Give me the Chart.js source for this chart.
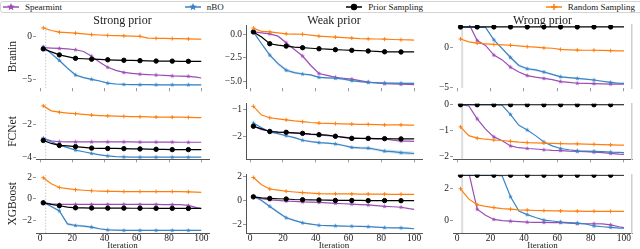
<!DOCTYPE html>
<html>
<head>
<meta charset="utf-8">
<script src="https://cdn.jsdelivr.net/npm/chart.js@4.4.0/dist/chart.umd.min.js"></script>
<style>
    body { margin: 0; background: #fff; width: 640px; height: 249px; overflow: hidden; position: relative; font-family: "Liberation Serif", serif; }
    canvas.panel { position: absolute; }
    #legendBox { position: absolute; left: 0; top: 1px; width: 642px; height: 12px; box-sizing: border-box; border: 1px solid #d4d4d4; border-radius: 3px;
        display: flex; justify-content: space-between; align-items: center; padding: 0 6px 0 2px; font-size: 9px; color: #222; }
    #legendBox span { display: flex; align-items: center; white-space: nowrap; }
    #legendBox canvas { margin-right: 6px; }
</style>
</head>
<body>
<div id="legendBox"></div>
<script>
const iters = [2, 7, 12, 17, 22, 27, 32, 37, 42, 47, 52, 57, 62, 67, 72, 77, 82, 87, 92, 97, 100];
const xTicks = [0, 20, 40, 60, 80, 100];
const methods = ['Spearmint', 'nBO', 'Prior Sampling', 'Random Sampling'];
const priors = ['Strong prior', 'Weak prior', 'Wrong prior'];
const benchmarks = ['Branin', 'FCNet', 'XGBoost'];
const initIter = 3;

// Branin
const braninStrongSpearmint = [-1.3, -1.35, -1.4, -1.45, -1.55, -1.75, -2.3, -3.0, -3.6, -3.95, -4.2, -4.3, -4.4, -4.45, -4.5, -4.55, -4.6, -4.62, -4.65, -4.75, -4.85];
const braninStrongNBO = [-1.2, -2.0, -2.8, -3.7, -4.5, -4.8, -5.0, -5.2, -5.45, -5.55, -5.6, -5.62, -5.63, -5.63, -5.64, -5.64, -5.64, -5.65, -5.65, -5.65, -5.65];
const braninStrongPrior = [-1.45, -1.8, -2.15, -2.35, -2.55, -2.6, -2.65, -2.68, -2.72, -2.75, -2.78, -2.8, -2.82, -2.85, -2.87, -2.88, -2.88, -2.9, -2.9, -2.9, -2.9];
const braninStrongRandom = [1.0, 0.7, 0.5, 0.45, 0.38, 0.3, 0.22, 0.17, 0.12, 0.1, 0.08, 0.05, 0.02, -0.2, -0.22, -0.23, -0.25, -0.26, -0.28, -0.3, -0.3];

const braninWeakSpearmint = [0.25, 0.15, 0.05, -0.2, -0.9, -1.6, -2.3, -3.3, -4.15, -4.35, -4.55, -4.65, -4.75, -4.9, -5.05, -5.15, -5.22, -5.25, -5.28, -5.3, -5.32];
const braninWeakNBO = [0.25, -1.0, -2.2, -3.1, -3.8, -4.05, -4.2, -4.3, -4.55, -4.6, -4.65, -4.75, -4.9, -5.0, -5.08, -5.12, -5.15, -5.17, -5.18, -5.2, -5.2];
const braninWeakPrior = [0.25, -0.3, -1.0, -1.15, -1.25, -1.35, -1.42, -1.48, -1.53, -1.58, -1.63, -1.66, -1.7, -1.73, -1.77, -1.8, -1.85, -1.86, -1.87, -1.87, -1.87];
const braninWeakRandom = [0.65, 0.3, 0.25, 0.15, 0.05, 0.02, 0.0, -0.1, -0.2, -0.25, -0.3, -0.35, -0.4, -0.45, -0.48, -0.5, -0.52, -0.55, -0.58, -0.6, -0.62];

const braninWrongSpearmint = [6.0, 2.9, 0.8, 0.2, -1.0, -1.6, -2.5, -3.1, -3.55, -3.75, -3.9, -4.05, -4.3, -4.4, -4.5, -4.52, -4.55, -4.58, -4.6, -4.6, -4.62];
const braninWrongNBO = [2.45, 2.45, 2.45, 2.45, 0.9, -0.2, -1.3, -2.3, -2.7, -2.85, -3.1, -3.4, -3.7, -3.8, -3.9, -4.0, -4.1, -4.25, -4.4, -4.5, -4.52];
const braninWrongPrior = [2.5, 2.5, 2.5, 2.5, 2.5, 2.5, 2.5, 2.5, 2.5, 2.5, 2.5, 2.5, 2.5, 2.5, 2.5, 2.5, 2.5, 2.5, 2.5, 2.5, 2.5];
const braninWrongRandom = [1.0, 0.65, 0.48, 0.4, 0.32, 0.28, 0.22, 0.15, 0.05, -0.02, -0.1, -0.15, -0.3, -0.35, -0.38, -0.4, -0.4, -0.42, -0.45, -0.48, -0.48];

// FCNet
const fcnetStrongSpearmint = [-2.85, -3.0, -3.05, -3.06, -3.06, -3.06, -3.06, -3.06, -3.06, -3.06, -3.06, -3.06, -3.07, -3.07, -3.07, -3.07, -3.07, -3.08, -3.08, -3.08, -3.08];
const fcnetStrongNBO = [-2.85, -3.05, -3.25, -3.4, -3.55, -3.65, -3.75, -3.83, -3.9, -3.94, -3.96, -3.97, -3.97, -3.97, -3.97, -3.97, -3.97, -3.97, -3.97, -3.97, -3.97];
const fcnetStrongPrior = [-2.97, -3.15, -3.27, -3.3, -3.34, -3.38, -3.43, -3.44, -3.45, -3.45, -3.46, -3.47, -3.48, -3.49, -3.5, -3.51, -3.52, -3.52, -3.52, -3.52, -3.52];
const fcnetStrongRandom = [-0.9, -1.2, -1.28, -1.33, -1.37, -1.41, -1.45, -1.48, -1.5, -1.52, -1.53, -1.54, -1.55, -1.56, -1.57, -1.57, -1.58, -1.58, -1.59, -1.6, -1.6];

const fcnetWeakSpearmint = [-1.62, -1.75, -1.8, -1.84, -1.86, -1.88, -1.9, -1.93, -1.95, -1.98, -2.0, -2.03, -2.06, -2.08, -2.09, -2.1, -2.1, -2.15, -2.18, -2.18, -2.19];
const fcnetWeakNBO = [-1.5, -1.68, -1.84, -1.9, -1.98, -2.05, -2.15, -2.2, -2.24, -2.26, -2.29, -2.35, -2.42, -2.44, -2.45, -2.5, -2.56, -2.58, -2.62, -2.64, -2.65];
const fcnetWeakPrior = [-1.62, -1.72, -1.82, -1.84, -1.85, -1.87, -1.89, -1.92, -1.94, -1.96, -2.0, -2.04, -2.08, -2.08, -2.08, -2.09, -2.09, -2.1, -2.1, -2.1, -2.1];
const fcnetWeakRandom = [-0.87, -1.2, -1.3, -1.34, -1.38, -1.42, -1.45, -1.48, -1.5, -1.51, -1.52, -1.53, -1.54, -1.55, -1.55, -1.56, -1.57, -1.57, -1.57, -1.58, -1.58];

const fcnetWrongSpearmint = [0.0, -0.05, -0.55, -0.95, -1.25, -1.4, -1.6, -1.67, -1.7, -1.72, -1.75, -1.77, -1.78, -1.8, -1.81, -1.82, -1.84, -1.86, -1.89, -1.92, -1.93];
const fcnetWrongNBO = [0.0, 0.0, 0.0, 0.0, 0.0, -0.02, -0.38, -0.8, -0.98, -1.2, -1.45, -1.6, -1.7, -1.75, -1.79, -1.8, -1.81, -1.82, -1.84, -1.85, -1.86];
const fcnetWrongPrior = [0, 0, 0, 0, 0, 0, 0, 0, 0, 0, 0, 0, 0, 0, 0, 0, 0, 0, 0, 0, 0];
const fcnetWrongRandom = [-0.86, -1.2, -1.3, -1.34, -1.37, -1.39, -1.42, -1.45, -1.47, -1.48, -1.49, -1.5, -1.51, -1.52, -1.52, -1.53, -1.54, -1.55, -1.56, -1.57, -1.57];

// XGBoost
const xgbStrongSpearmint = [-0.35, -0.45, -0.5, -0.5, -0.5, -0.5, -0.5, -0.5, -0.5, -0.5, -0.5, -0.51, -0.51, -0.51, -0.51, -0.52, -0.52, -0.52, -0.6, -0.8, -0.9];
const xgbStrongNBO = [-0.3, -0.7, -1.1, -2.3, -2.45, -2.5, -2.6, -2.75, -2.85, -2.88, -2.9, -2.9, -2.9, -2.9, -2.9, -2.9, -2.9, -2.9, -2.9, -2.9, -2.9];
const xgbStrongPrior = [-0.36, -0.5, -0.63, -0.75, -0.82, -0.83, -0.84, -0.84, -0.85, -0.85, -0.85, -0.86, -0.86, -0.86, -0.87, -0.87, -0.87, -0.88, -0.88, -0.88, -0.88];
const xgbStrongRandom = [1.95, 1.4, 1.05, 0.95, 0.85, 0.8, 0.75, 0.72, 0.7, 0.69, 0.68, 0.68, 0.68, 0.68, 0.68, 0.68, 0.68, 0.67, 0.65, 0.62, 0.6];

const xgbWeakSpearmint = [0.3, 0.15, 0.05, 0.0, -0.05, -0.08, -0.12, -0.14, -0.16, -0.2, -0.24, -0.27, -0.3, -0.34, -0.37, -0.42, -0.49, -0.52, -0.56, -0.68, -0.74];
const xgbWeakNBO = [0.35, 0.0, -0.49, -0.98, -1.43, -1.65, -1.85, -1.95, -2.05, -2.08, -2.1, -2.12, -2.13, -2.15, -2.17, -2.2, -2.25, -2.26, -2.27, -2.3, -2.34];
const xgbWeakPrior = [0.3, 0.22, 0.17, 0.14, 0.12, 0.08, 0.06, 0.05, 0.04, 0.02, 0.0, 0.0, 0.0, 0.0, -0.01, -0.01, -0.01, -0.02, -0.02, -0.02, -0.02];
const xgbWeakRandom = [1.9, 1.3, 0.95, 0.85, 0.76, 0.7, 0.65, 0.6, 0.56, 0.55, 0.55, 0.54, 0.54, 0.53, 0.53, 0.52, 0.52, 0.51, 0.51, 0.5, 0.5];

const xgbWrongSpearmint = [6.0, 3.0, 0.72, 0.34, 0.08, 0.0, -0.03, -0.06, -0.09, -0.1, -0.11, -0.12, -0.12, -0.15, -0.18, -0.19, -0.19, -0.2, -0.26, -0.38, -0.43];
const xgbWrongNBO = [2.85, 2.85, 2.85, 2.85, 2.85, 2.8, 1.5, 0.6, 0.38, 0.2, 0.04, -0.02, -0.08, -0.12, -0.15, -0.2, -0.33, -0.38, -0.42, -0.46, -0.47];
const xgbWrongPrior = [2.85, 2.85, 2.85, 2.85, 2.85, 2.85, 2.85, 2.85, 2.85, 2.85, 2.85, 2.85, 2.85, 2.85, 2.85, 2.85, 2.85, 2.85, 2.85, 2.85, 2.85];
const xgbWrongRandom = [2.0, 1.35, 1.0, 0.9, 0.82, 0.76, 0.72, 0.68, 0.66, 0.64, 0.63, 0.62, 0.61, 0.6, 0.6, 0.59, 0.59, 0.59, 0.58, 0.58, 0.58];

// half-width of the shaded spread around some nBO curves
const braninStrongNBOSpread = [0.05, 0.1, 0.15, 0.15, 0.15, 0.12, 0.1, 0.08, 0.08, 0.08, 0.07, 0.07, 0.07, 0.07, 0.07, 0.07, 0.07, 0.07, 0.07, 0.07, 0.07];
const braninWeakNBOSpread = [0.05, 0.1, 0.15, 0.2, 0.2, 0.15, 0.12, 0.1, 0.1, 0.1, 0.1, 0.1, 0.1, 0.1, 0.1, 0.1, 0.1, 0.1, 0.1, 0.1, 0.1];
const braninWrongNBOSpread = [0, 0, 0, 0, 0.1, 0.15, 0.2, 0.2, 0.15, 0.15, 0.15, 0.12, 0.12, 0.1, 0.1, 0.1, 0.1, 0.1, 0.1, 0.1, 0.1];
const fcnetWeakNBOSpread = [0.02, 0.03, 0.03, 0.03, 0.03, 0.03, 0.03, 0.03, 0.03, 0.03, 0.03, 0.04, 0.04, 0.05, 0.05, 0.06, 0.06, 0.07, 0.07, 0.07, 0.07];
const xgbStrongNBOSpread = [0.05, 0.1, 0.1, 0.15, 0.12, 0.1, 0.1, 0.08, 0.06, 0.05, 0.05, 0.05, 0.05, 0.05, 0.05, 0.05, 0.05, 0.05, 0.05, 0.05, 0.05];
const xgbWeakNBOSpread = [0.05, 0.08, 0.1, 0.12, 0.1, 0.08, 0.06, 0.05, 0.05, 0.05, 0.05, 0.05, 0.05, 0.05, 0.05, 0.05, 0.05, 0.05, 0.05, 0.05, 0.05];

// y tick values per panel
const braninStrongTicks = [0, -5];
const braninWeakTicks = [0, -2.5, -5];
const braninWrongTicks = [0, -5];
const fcnetStrongTicks = [-2, -4];
const fcnetWeakTicks = [-1, -2];
const fcnetWrongTicks = [0, -1, -2];
const xgbStrongTicks = [2, 0, -2];
const xgbWeakTicks = [2, 0, -2];
const xgbWrongTicks = [2, 0];

const FONT = '"Liberation Serif", serif';
const methodStyle = {
    'Spearmint': { color: '#9b4db5', band: 'rgba(155,77,181,0.18)', marker: 'star', order: 4 },
    'nBO': { color: '#3a84c4', band: 'rgba(58,132,196,0.2)', marker: 'star', order: 3 },
    'Prior Sampling': { color: '#000000', band: 'rgba(0,0,0,0.15)', marker: 'circle', order: 2 },
    'Random Sampling': { color: '#ff7f0e', band: 'rgba(255,127,14,0.2)', marker: 'cross', order: 1 }
};

function starCanvas(color, r) {
    const c = document.createElement('canvas');
    const s = Math.ceil(r * 2 + 2);
    c.width = s; c.height = s;
    const g = c.getContext('2d');
    g.fillStyle = color;
    g.beginPath();
    for (let i = 0; i < 10; i++) {
        const a = -Math.PI / 2 + i * Math.PI / 5;
        const rr = i % 2 ? r * 0.45 : r;
        g.lineTo(s / 2 + rr * Math.cos(a), s / 2 + rr * Math.sin(a));
    }
    g.closePath();
    g.fill();
    return c;
}

function legendIcon(name) {
    const st = methodStyle[name];
    const c = document.createElement('canvas');
    c.width = 16; c.height = 10;
    const g = c.getContext('2d');
    g.strokeStyle = st.color; g.fillStyle = st.color; g.lineWidth = 1.5;
    g.beginPath(); g.moveTo(0, 5); g.lineTo(16, 5); g.stroke();
    if (st.marker === 'star') {
        const s = starCanvas(st.color, 4);
        g.drawImage(s, 8 - s.width / 2, 5 - s.height / 2);
    } else if (st.marker === 'circle') {
        g.beginPath(); g.arc(8, 5, 3.2, 0, Math.PI * 2); g.fill();
    } else {
        g.beginPath(); g.moveTo(5, 5); g.lineTo(11, 5); g.moveTo(8, 2); g.lineTo(8, 8); g.stroke();
    }
    return c;
}

const pointImages = {};
methods.forEach(m => {
    if (methodStyle[m].marker === 'star') pointImages[m] = starCanvas(methodStyle[m].color, 2.4);
});

function fmt(dec) {
    return v => (v < 0 ? '\u2212' : '') + Math.abs(v).toFixed(dec);
}

// column / row geometry of the plot areas
const cols = [
    { left: 0, yw: 36, aw: 178, padR: 0 },
    { left: 214, yw: 32, aw: 181, padR: 0 },
    { left: 427, yw: 26, aw: 182, padR: 2 }
];
const rows = [
    { top: 16, titleH: 9, ah: 66, xh: 4 },
    { top: 97, titleH: 0, ah: 65, xh: 4 },
    { top: 168, titleH: 0, ah: 65, xh: 16 }
];

const panels = [
    { r: 0, c: 0, series: [braninStrongSpearmint, braninStrongNBO, braninStrongPrior, braninStrongRandom], spread: { 1: braninStrongNBOSpread }, min: -6.05, max: 1.34, ticks: braninStrongTicks, dec: 0 },
    { r: 0, c: 1, series: [braninWeakSpearmint, braninWeakNBO, braninWeakPrior, braninWeakRandom], spread: { 1: braninWeakNBOSpread }, min: -5.71, max: 0.98, ticks: braninWeakTicks, dec: 1 },
    { r: 0, c: 2, series: [braninWrongSpearmint, braninWrongNBO, braninWrongPrior, braninWrongRandom], spread: { 1: braninWrongNBOSpread }, min: -5.13, max: 2.74, ticks: braninWrongTicks, dec: 0 },
    { r: 1, c: 0, series: [fcnetStrongSpearmint, fcnetStrongNBO, fcnetStrongPrior, fcnetStrongRandom], spread: {}, min: -4.1, max: -0.77, ticks: fcnetStrongTicks, dec: 0 },
    { r: 1, c: 1, series: [fcnetWeakSpearmint, fcnetWeakNBO, fcnetWeakPrior, fcnetWeakRandom], spread: { 1: fcnetWeakNBOSpread }, min: -2.87, max: -0.77, ticks: fcnetWeakTicks, dec: 0 },
    { r: 1, c: 2, series: [fcnetWrongSpearmint, fcnetWrongNBO, fcnetWrongPrior, fcnetWrongRandom], spread: {}, min: -2.12, max: 0.04, ticks: fcnetWrongTicks, dec: 0 },
    { r: 2, c: 0, series: [xgbStrongSpearmint, xgbStrongNBO, xgbStrongPrior, xgbStrongRandom], spread: { 1: xgbStrongNBOSpread }, min: -3.14, max: 2.23, ticks: xgbStrongTicks, dec: 0 },
    { r: 2, c: 1, series: [xgbWeakSpearmint, xgbWeakNBO, xgbWeakPrior, xgbWeakRandom], spread: { 1: xgbWeakNBOSpread }, min: -2.69, max: 2.13, ticks: xgbWeakTicks, dec: 0 },
    { r: 2, c: 2, series: [xgbWrongSpearmint, xgbWrongNBO, xgbWrongPrior, xgbWrongRandom], spread: {}, min: -0.77, max: 2.88, ticks: xgbWrongTicks, dec: 0 }
];

function markerRadius(name) {
    const st = methodStyle[name];
    const r = st.marker === 'circle' ? 2.2 : 2;
    return ctx => (ctx.dataIndex % 2 === 0 && ctx.dataIndex < iters.length - 1) ? r : 0;
}

function buildDatasets(p) {
    const sets = [];
    p.series.forEach((vals, i) => {
        const name = methods[i];
        const st = methodStyle[name];
        sets.push({
            label: name,
            data: iters.map((x, k) => ({ x: x, y: vals[k] })),
            borderColor: st.color,
            backgroundColor: st.color,
            borderWidth: 1.2,
            pointStyle: st.marker === 'star' ? pointImages[name] : (st.marker === 'circle' ? 'circle' : 'cross'),
            pointRadius: markerRadius(name),
            pointBorderWidth: 1,
            order: st.order
        });
        const sp = p.spread[i];
        if (sp) {
            // upper edge filled down to the lower edge that follows it
            sets.push({
                label: name + ' band',
                data: iters.map((x, k) => ({ x: x, y: vals[k] + sp[k] })),
                borderWidth: 0,
                pointRadius: 0,
                backgroundColor: st.band,
                fill: '+1',
                order: 8
            });
            sets.push({
                label: name + ' band low',
                data: iters.map((x, k) => ({ x: x, y: vals[k] - sp[k] })),
                borderWidth: 0,
                pointRadius: 0,
                fill: false,
                order: 8
            });
        }
    });
    // initial design marker line (first and last columns)
    if (p.c !== 1) {
        const xi = initIter + (p.c === 0 ? 0.5 : 0);
        sets.push({
            label: 'init',
            data: [{ x: xi, y: p.min }, { x: xi, y: p.max }],
            borderColor: p.c === 0 ? '#c8c8c8' : '#dcdcdc',
            borderWidth: p.c === 0 ? 1 : 2,
            borderDash: p.c === 0 ? [1.5, 1.5] : [],
            pointRadius: 0,
            order: 10
        });
    }
    return sets;
}

function createPanel(p) {
    const col = cols[p.c], row = rows[p.r];
    const cv = document.createElement('canvas');
    cv.className = 'panel';
    const w = col.yw + col.aw + col.padR;
    const h = row.titleH + row.ah + row.xh;
    cv.width = w; cv.height = h;
    cv.style.left = col.left + 'px';
    cv.style.top = row.top + 'px';
    cv.style.width = w + 'px';
    cv.style.height = h + 'px';
    document.body.appendChild(cv);

    const lastRow = p.r === 2;
    const scales = {
        x: {
            type: 'linear',
            min: -2.5,
            max: 104.8,
            afterBuildTicks: s => { s.ticks = xTicks.map(v => ({ value: v })); },
            afterFit: s => { s.height = row.xh; },
            ticks: { display: lastRow, padding: 0, color: '#222', font: { family: FONT, size: 9.5 }, maxRotation: 0 },
            grid: { drawOnChartArea: false, drawTicks: !lastRow, tickLength: 3, tickColor: '#999' },
            border: { display: p.r > 0, color: '#555', width: 1 },
            title: { display: lastRow, text: 'Iteration', color: '#222', font: { family: FONT, size: 9, lineHeight: 0.78 }, padding: { top: 0, bottom: 0 } }
        },
        y: {
            type: 'linear',
            min: p.min,
            max: p.max,
            afterBuildTicks: s => { s.ticks = p.ticks.map(v => ({ value: v })); },
            afterFit: s => { s.width = col.yw; },
            ticks: { padding: 1, color: '#222', font: { family: FONT, size: 9.5 }, callback: fmt(p.dec) },
            grid: { drawOnChartArea: false, drawTicks: true, tickLength: 3, tickColor: '#999' },
            border: { display: p.c === 1, color: '#555', width: 1 },
            title: { display: p.c === 0, text: benchmarks[p.r], color: '#222', font: { family: FONT, size: 11.5 }, padding: { top: 6, bottom: 0 } }
        }
    };
    if (p.c === 2) {
        scales.y2 = {
            position: 'right',
            min: 0, max: 1,
            afterFit: s => { s.width = 0; },
            ticks: { display: false },
            grid: { display: false },
            border: { display: true, color: '#cfcfcf', width: 1.5 }
        };
    }

    return new Chart(cv, {
        type: 'line',
        data: { datasets: buildDatasets(p) },
        options: {
            responsive: false,
            animation: false,
            devicePixelRatio: 1,
            layout: { padding: { left: 0, right: col.padR, top: 0, bottom: 0 } },
            scales: scales,
            plugins: {
                legend: { display: false },
                tooltip: { enabled: false },
                title: {
                    display: p.r === 0,
                    text: priors[p.c],
                    fullSize: false,
                    color: '#222',
                    font: { family: FONT, size: 12, weight: 'normal', lineHeight: 0.75 },
                    padding: { top: 0, bottom: 0 }
                }
            }
        }
    });
}

const charts = panels.map(createPanel);

// HTML legend built from the first chart's legend items, in method order
function buildLegend(chart) {
    const box = document.getElementById('legendBox');
    box.innerHTML = '';
    const items = chart.options.plugins.legend.labels.generateLabels(chart)
        .filter(it => methods.includes(it.text))
        .sort((a, b) => methods.indexOf(a.text) - methods.indexOf(b.text));
    items.forEach(it => {
        const span = document.createElement('span');
        span.appendChild(legendIcon(it.text));
        span.appendChild(document.createTextNode(it.text));
        box.appendChild(span);
    });
}
buildLegend(charts[0]);
</script>
</body>
</html>
